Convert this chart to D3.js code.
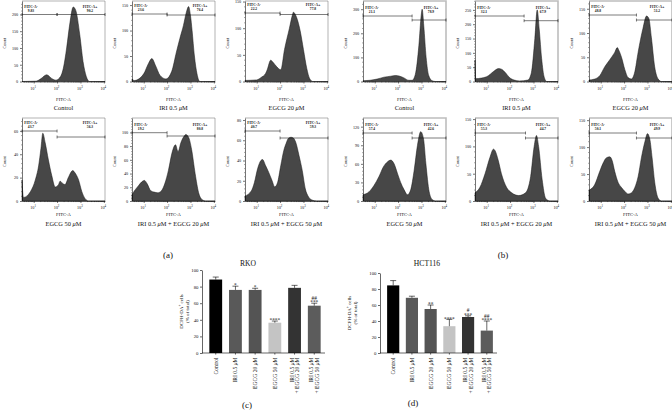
<!DOCTYPE html>
<html><head><meta charset="utf-8">
<script src="https://cdn.jsdelivr.net/npm/d3@7"></script>
<style>
body{margin:0;background:#fff}
svg{display:block}
text{font-family:"Liberation Serif","DejaVu Serif",serif;fill:#111}
</style></head>
<body><svg id="c" width="672" height="413"></svg>
<script>
// ---------------- DATA ----------------
const treatments = ["Control", "IRI 0.5 μM", "EGCG 20 μM", "EGCG 50 μM", "IRI 0.5 μM + EGCG 20 μM", "IRI 0.5 μM + EGCG 50 μM"];
const xTickLabels = ["1", "2", "3", "4"]; // exponents of 10
const rkoNeg = ["9.83", "23.6", "22.2", "43.7", "19.2", "40.7"];
const rkoPos = ["90.2", "76.4", "77.8", "56.3", "80.8", "59.3"];
const hctNeg = ["21.1", "32.1", "48.8", "57.4", "55.3", "50.1"];
const hctPos = ["78.9", "67.9", "51.2", "42.6", "44.7", "49.9"];
// gate divider (log10 FITC-A)
const rkoGate = [2, 2, 2, 2, 2, 2];
const hctGate = [2.6, 2.6, 2.53, 2.6, 2.66, 2.53];
// y-axis ticks and max count per panel
const rkoYTicks = [[0,50,100,150,200],[0,50,100,150],[0,50,100,150],[0,20,40,60],[0,20,40,60,80,100],[0,20,40,60,80]];
const rkoYMax = [240, 158, 151, 71, 121, 82];
const hctYTicks = [[0,100,200,300],[0,50,100,150,200,250],[0,50,100,150],[0,30,60,90,120],[0,50,100,150],[0,50,100,150]];
const hctYMax = [334, 281, 166, 134, 152, 154];
// histogram curves: [log10 FITC-A, count]
const rkoControl = [[0.5,0],[1.1,1],[1.3,8],[1.56,20],[1.75,10],[1.95,4],[2.15,15],[2.27,40],[2.41,100],[2.55,175],[2.69,222],[2.8,212],[2.97,140],[3.11,60],[3.25,15],[3.39,0],[4.05,0]];
const rkoIri = [[0.5,5],[0.6,2],[1.0,15],[1.2,35],[1.35,45],[1.5,32],[1.7,12],[1.95,5],[2.2,20],[2.4,58],[2.55,85],[2.7,110],[2.82,135],[2.92,147],[3.0,130],[3.07,100],[3.17,50],[3.28,15],[3.4,0],[4.05,0]];
const rkoE20 = [[0.5,2],[1.0,3],[1.2,8],[1.38,15],[1.45,22],[1.6,40],[1.7,36],[1.85,28],[2.03,22],[2.19,60],[2.4,100],[2.53,125],[2.57,130],[2.66,125],[2.86,95],[3.0,60],[3.14,25],[3.27,5],[3.4,0],[4.05,0]];
const rkoE50 = [[0.5,18],[0.56,3],[0.86,8],[1.07,18],[1.21,30],[1.31,45],[1.39,58],[1.49,50],[1.63,35],[1.77,22],[1.92,12],[2.06,14],[2.13,17],[2.24,15],[2.34,14],[2.48,20],[2.67,26],[2.77,24],[2.92,18],[3.06,8],[3.2,2],[3.35,0],[4.05,0]];
const rkoIriE20 = [[0.5,9],[0.55,12],[0.77,22],[0.92,28],[1.03,30],[1.15,25],[1.3,15],[1.45,13],[1.6,12],[1.76,15],[1.9,25],[2.06,45],[2.21,70],[2.36,82],[2.47,72],[2.59,85],[2.74,95],[2.8,97],[2.92,93],[3.05,75],[3.2,40],[3.35,12],[3.5,2],[3.65,0],[4.05,0]];
const rkoIriE50 = [[0.5,5],[0.77,10],[0.9,18],[1.04,32],[1.18,40],[1.25,41],[1.38,35],[1.52,28],[1.66,20],[1.77,14],[1.89,18],[2.03,35],[2.16,50],[2.26,57],[2.36,62],[2.47,63],[2.58,62],[2.67,58],[2.81,45],[2.95,30],[3.08,12],[3.22,4],[3.36,1],[3.56,0],[4.05,0]];
const hctControl = [[0.5,3],[0.8,5],[1.1,10],[1.4,18],[1.69,22],[1.9,25],[2.04,23],[2.25,15],[2.46,5],[2.6,5],[2.74,30],[2.89,150],[2.99,275],[3.03,300],[3.1,230],[3.2,100],[3.31,25],[3.46,3],[3.6,0],[4.05,0]];
const hctIri = [[0.5,75],[0.53,10],[0.78,12],[1.07,20],[1.29,35],[1.51,45],[1.63,43],[1.81,30],[1.96,15],[2.18,5],[2.4,2],[2.76,5],[2.91,30],[3.06,150],[3.16,250],[3.25,180],[3.35,80],[3.46,15],[3.57,0],[4.05,0]];
const hctE20 = [[0.5,3],[0.74,5],[0.96,12],[1.17,30],[1.39,45],[1.6,60],[1.71,70],[1.77,65],[1.89,50],[2.03,25],[2.17,8],[2.31,5],[2.46,20],[2.6,60],[2.81,110],[2.96,135],[3.06,130],[3.17,90],[3.31,30],[3.46,5],[3.6,0],[4.05,0]];
const hctE50 = [[0.5,10],[0.76,15],[0.97,25],[1.19,40],[1.37,55],[1.54,63],[1.69,66],[1.83,60],[1.97,45],[2.11,30],[2.26,18],[2.4,10],[2.54,18],[2.69,50],[2.83,90],[2.97,112],[3.09,100],[3.19,60],[3.33,15],[3.47,2],[3.6,0],[4.05,0]];
const hctIriE20 = [[0.5,15],[0.71,25],[0.93,50],[1.14,80],[1.29,95],[1.36,92],[1.49,75],[1.63,50],[1.85,25],[2.07,15],[2.37,10],[2.66,15],[2.88,45],[3.03,100],[3.13,120],[3.22,100],[3.37,40],[3.52,5],[3.7,0],[4.05,0]];
const hctIriE50 = [[0.5,20],[0.74,30],[0.96,55],[1.1,70],[1.24,80],[1.39,82],[1.49,75],[1.6,55],[1.74,35],[1.89,25],[2.03,18],[2.17,13],[2.31,15],[2.46,25],[2.6,45],[2.74,80],[2.89,110],[3.0,125],[3.1,115],[3.2,80],[3.31,35],[3.46,5],[3.6,0],[4.05,0]];
const rkoCurves = [rkoControl, rkoIri, rkoE20, rkoE50, rkoIriE20, rkoIriE50];
const hctCurves = [hctControl, hctIri, hctE20, hctE50, hctIriE20, hctIriE50];
// bar charts
const barLabels = [["Control"], ["IRI 0.5 μM"], ["EGCG 20 μM"], ["EGCG 50 μM"], ["IRI 0.5 μM", "+ EGCG 20 μM"], ["IRI 0.5 μM", "+ EGCG 50 μM"]];
const barYTicks = [0, 20, 40, 60, 80, 100];
const rkoMean = [88.5, 76, 76, 36.5, 78.5, 57];
const rkoErr = [3, 4.5, 2, 2, 3, 3];
const rkoSig = ["", "*", "*", "****", "", "***"];
const rkoSig2 = ["", "", "", "", "", "##"];
const hctMean = [84.5, 69, 55, 33.5, 45, 28];
const hctErr = [6, 2, 5, 8.5, 1.5, 12];
const hctSig = ["", "", "**", "****", "***", "****"];
const hctSig2 = ["", "", "", "", "#", "##"];
const barColors = ["#000000", "#595959", "#545454", "#c4c4c4", "#333333", "#5c5c5c"];

// ---------------- LAYOUT ----------------
const svg = d3.select("#c");
const W = 83;
const layout = {
  colsA: [22, 132, 245], colsB: [363, 475, 589],
  rows: [[1, 81.5], [118, 201]],
  gateA: [[14.5,14.5],[14,15],[13,14.5],[131,137],[132.7,136],[131,138]],
  gateB: [[16,20],[16,20.7],[15,20],[133,138],[133,138],[133,138]],
  xlabY: [100.5, 216], capY: [109.5, 226]
};

function captionText(sel, str) {
  const parts = str.split("μ");
  parts.forEach((p, i) => {
    sel.append("tspan").text(p);
    if (i < parts.length - 1) sel.append("tspan").attr("font-style", "italic").text("μ");
  });
}

function drawHist(p) {
  const g = svg.append("g");
  const x = d3.scaleLog().domain([Math.pow(10, 0.5), Math.pow(10, 4.05)]).range([p.x, p.x + W]);
  const y = d3.scaleLinear().domain([0, p.ymax]).range([p.yb, p.yt]);
  g.append("path").attr("d", `M${p.x},${p.yt}H${p.x + W}V${p.yb}`)
    .attr("fill", "none").attr("stroke", p.frame).attr("stroke-width", p.frameW);
  const area = d3.area().x(d => x(Math.pow(10, d[0]))).y0(y(0)).y1(d => y(d[1])).curve(d3.curveMonotoneX);
  g.append("path").datum(p.curve).attr("d", area)
    .attr("fill", "#474747").attr("stroke", "#151515").attr("stroke-width", 0.5);
  const majors = xTickLabels.map(e => Math.pow(10, +e));
  const xa = g.append("g").attr("transform", `translate(0,${p.yb})`)
    .call(d3.axisBottom(x).tickValues(majors).tickSize(2).tickSizeOuter(0).tickFormat(""));
  const minors = [];
  for (let k = 0; k < 4; k++) for (let m = 2; m < 10; m++) {
    const v = m * Math.pow(10, k);
    if (v >= x.domain()[0] && v <= x.domain()[1]) minors.push(v);
  }
  g.append("g").selectAll("line").data(minors).join("line")
    .attr("x1", d => x(d)).attr("x2", d => x(d)).attr("y1", p.yb).attr("y2", p.yb + 1.1)
    .attr("stroke", "#000").attr("stroke-width", 0.35);
  xa.selectAll("path,line").attr("stroke", "#000").attr("stroke-width", 0.55);
  const xt = g.append("g").selectAll("text").data(xTickLabels).join("text")
    .attr("x", d => x(Math.pow(10, +d)) - 0.6).attr("y", p.yb + 8.2)
    .attr("font-size", 4.2).attr("text-anchor", "middle");
  xt.append("tspan").text("10");
  xt.append("tspan").attr("dy", -1.8).attr("font-size", 3).text(d => d);
  const ya = g.append("g").attr("transform", `translate(${p.x},0)`)
    .call(d3.axisLeft(y).tickValues(p.ticks).tickSize(2).tickSizeOuter(0).tickPadding(1.8));
  ya.selectAll("path,line").attr("stroke", "#000").attr("stroke-width", 0.55);
  ya.selectAll("text").attr("font-size", 4.2).attr("font-family", "Liberation Serif");
  const step = (p.ticks[1] - p.ticks[0]) / 5;
  const ym = d3.range(0, p.ymax, step).filter(v => !p.ticks.some(t => Math.abs(t - v) < 1e-6));
  g.append("g").selectAll("line").data(ym).join("line")
    .attr("x1", p.x - 1).attr("x2", p.x).attr("y1", d => y(d)).attr("y2", d => y(d))
    .attr("stroke", "#000").attr("stroke-width", 0.35);
  g.append("text").attr("transform", `translate(${p.x - 16.5},${(p.yt + p.yb) / 2 + 2}) rotate(-90)`)
    .attr("text-anchor", "middle").attr("font-size", 4.3).text("Count");
  const gx = x(Math.pow(10, p.gate));
  const gates = [[p.x, gx, p.gy[0]], [gx, p.x + W, p.gy[1]]];
  gates.forEach(([a, b, yy]) => {
    g.append("path").attr("d", `M${a},${yy}H${b}M${a},${yy - 1.5}V${yy + 1.5}M${b},${yy - 1.5}V${yy + 1.5}`)
      .attr("stroke", "#111").attr("stroke-width", 0.55).attr("fill", "none");
  });
  const lb = [[p.x + 9, "FITC-A-", p.neg], [p.x + W - 15, "FITC-A+", p.pos]];
  const top = Math.min(p.gy[0], p.gy[1]);
  lb.forEach(([cx, t, v]) => {
    g.append("text").attr("x", cx).attr("y", top - 6.8).attr("text-anchor", "middle")
      .attr("font-size", 3.6).attr("font-weight", "bold").text(t);
    g.append("text").attr("x", cx).attr("y", top - 2.9).attr("text-anchor", "middle")
      .attr("font-size", 3.6).attr("font-weight", "bold").text(v);
  });
  g.append("text").attr("x", p.x + W / 2).attr("y", p.xlabY).attr("text-anchor", "middle")
    .attr("font-size", 4.6).text("FITC-A");
  const cap = g.append("text").attr("x", p.x + W / 2).attr("y", p.capY).attr("text-anchor", "middle")
    .attr("font-size", 6.4);
  captionText(cap, p.caption);
}

for (let i = 0; i < 6; i++) {
  const r = Math.floor(i / 3), c = i % 3;
  drawHist({x: layout.colsA[c], yt: layout.rows[r][0], yb: layout.rows[r][1], curve: rkoCurves[i],
    ymax: rkoYMax[i], ticks: rkoYTicks[i], gate: rkoGate[i], gy: layout.gateA[i], neg: rkoNeg[i], pos: rkoPos[i],
    caption: treatments[i], xlabY: layout.xlabY[r], capY: layout.capY[r], frame: "#666", frameW: 0.5});
  drawHist({x: layout.colsB[c], yt: layout.rows[r][0], yb: layout.rows[r][1], curve: hctCurves[i],
    ymax: hctYMax[i], ticks: hctYTicks[i], gate: hctGate[i], gy: layout.gateB[i], neg: hctNeg[i], pos: hctPos[i],
    caption: treatments[i], xlabY: layout.xlabY[r], capY: layout.capY[r], frame: "#bdbdbd", frameW: 1.6});
}

// ---------------- BAR CHARTS ----------------
function drawBars(p) {
  const g = svg.append("g");
  const x = d3.scaleBand().domain(d3.range(6)).range([p.x0, p.x1]).paddingInner(0.35).paddingOuter(0.22);
  const y = d3.scaleLinear().domain([0, 100]).range([353, p.ytop]);
  g.selectAll("rect").data(p.mean).join("rect")
    .attr("x", (d, i) => x(i)).attr("width", x.bandwidth())
    .attr("y", d => y(d)).attr("height", d => y(0) - y(d))
    .attr("fill", (d, i) => barColors[i]);
  p.mean.forEach((m, i) => {
    const cx = x(i) + x.bandwidth() / 2, t = y(m + p.err[i]);
    g.append("path").attr("d", `M${cx},${y(m)}V${t}M${cx - 3},${t}H${cx + 3}`)
      .attr("stroke", "#000").attr("stroke-width", 0.6).attr("fill", "none");
    if (p.sig[i]) g.append("text").attr("x", cx).attr("y", t + 1.2).attr("text-anchor", "middle")
      .attr("font-size", 5.4).text(p.sig[i]);
    if (p.sig2[i]) g.append("text").attr("x", cx).attr("y", t - 3.4).attr("text-anchor", "middle")
      .attr("font-size", 5.4).text(p.sig2[i]);
  });
  const ya = g.append("g").attr("transform", `translate(${p.x0 - 3},0)`)
    .call(d3.axisLeft(y).tickValues(barYTicks).tickSize(2).tickSizeOuter(0).tickPadding(1.5));
  ya.selectAll("path,line").attr("stroke", "#000").attr("stroke-width", 0.6);
  ya.selectAll("text").attr("font-size", 4.8).attr("font-family", "Liberation Serif");
  const xa = g.append("g").attr("transform", `translate(0,353)`)
    .call(d3.axisBottom(x).tickSize(1.6).tickSizeOuter(0).tickFormat(""));
  xa.select(".domain").attr("d", `M${p.x0 - 3},0H${p.x1}`);
  xa.selectAll("path,line").attr("stroke", "#000").attr("stroke-width", 0.6);
  barLabels.forEach((lines, i) => {
    const cx = x(i) + x.bandwidth() / 2;
    lines.forEach((t, j) => {
      const dx = lines.length === 1 ? 2 : (j === 0 ? -0.8 : 4.6);
      const tx = g.append("text").attr("transform", `translate(${cx + dx},357.5) rotate(-90)`)
        .attr("text-anchor", "end").attr("font-size", 5.6);
      captionText(tx, t);
    });
  });
  g.append("text").attr("x", p.titleX).attr("y", 265.5).attr("text-anchor", "middle")
    .attr("font-size", 7.6).text(p.title);
  const yl = g.append("text").attr("transform", `translate(${p.x0 - p.yl1},${(y(0) + y(100)) / 2}) rotate(-90)`)
    .attr("text-anchor", "middle").attr("font-size", 5);
  yl.append("tspan").text("DCFH-DA");
  yl.append("tspan").attr("dy", -1.8).attr("font-size", 3.4).text("+");
  yl.append("tspan").attr("dy", 1.8).text(" cells");
  g.append("text").attr("transform", `translate(${p.x0 - p.yl2},${(y(0) + y(100)) / 2}) rotate(-90)`)
    .attr("text-anchor", "middle").attr("font-size", 5).text("(% of total)");
  g.append("text").attr("x", p.letterX).attr("y", p.letterY).attr("text-anchor", "middle")
    .attr("font-size", 9).text(p.letter);
}

drawBars({x0: 205, x1: 325, ytop: 270, mean: rkoMean, err: rkoErr, sig: rkoSig, sig2: rkoSig2,
  title: "RKO", titleX: 248, letter: "(c)", letterX: 247, letterY: 408, yl1: 22, yl2: 16.5});
drawBars({x0: 383, x1: 497, ytop: 273, mean: hctMean, err: hctErr, sig: hctSig, sig2: hctSig2,
  title: "HCT116", titleX: 427, letter: "(d)", letterX: 413, letterY: 406, yl1: 32, yl2: 26.5});

svg.append("text").attr("x", 168).attr("y", 258).attr("text-anchor", "middle").attr("font-size", 9).text("(a)");
svg.append("text").attr("x", 503).attr("y", 258).attr("text-anchor", "middle").attr("font-size", 9).text("(b)");
</script>
</body></html>
